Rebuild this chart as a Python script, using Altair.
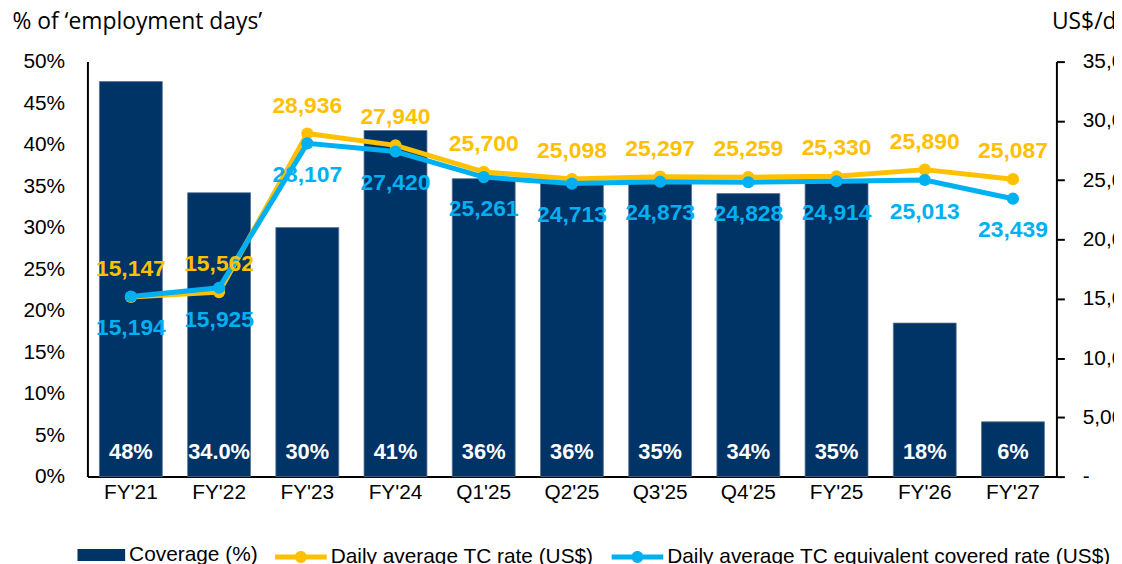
import altair as alt
import pandas as pd

categories = ["FY'21", "FY'22", "FY'23", "FY'24", "Q1'25", "Q2'25", "Q3'25",
              "Q4'25", "FY'25", "FY'26", "FY'27"]
coverage_pct = [47.6, 34.2, 30.0, 41.7, 35.9, 35.6, 35.3, 34.1, 35.4, 18.5, 6.6]
coverage_labels = ["48%", "34.0%", "30%", "41%", "36%", "36%", "35%", "34%",
                   "35%", "18%", "6%"]
tc_rate = [15147, 15562, 28936, 27940, 25700, 25098, 25297, 25259, 25330,
           25890, 25087]
tc_equiv_rate = [15194, 15925, 28107, 27420, 25261, 24713, 24873, 24828,
                 24914, 25013, 23439]
left_ticks = [0, 5, 10, 15, 20, 25, 30, 35, 40, 45, 50]
right_ticks = [0, 5000, 10000, 15000, 20000, 25000, 30000, 35000]

S_BAR = "Coverage (%)"
S_TC = "Daily average TC rate (US$)"
S_TCE = "Daily average TC equivalent covered rate (US$)"

NAVY = "#003366"
YELLOW = "#FFC000"
BLUE = "#00B0F0"
FONT = "Liberation Sans"

bars_df = pd.DataFrame({"category": categories, "coverage": coverage_pct,
                        "label": coverage_labels, "series": S_BAR})
lines_df = pd.DataFrame({
    "category": categories + categories,
    "rate": tc_rate + tc_equiv_rate,
    "series": [S_TC] * len(categories) + [S_TCE] * len(categories),
})

x_enc = alt.X("category:N", sort=categories,
              scale=alt.Scale(paddingInner=0.287, paddingOuter=0.136),
              axis=alt.Axis(title=None, labelAngle=0, ticks=False, tickSize=0,
                            labelPadding=5, labelFont=FONT, labelFontSize=21,
                            labelColor="black", domainColor="black",
                            domainWidth=2))

bar_legend = alt.Legend(title=None, orient="none", legendX=-10, legendY=473,
                        symbolType="M-1,-0.25H1V0.25H-1Z", symbolSize=2304,
                        symbolStrokeWidth=0, labelFont=FONT, labelFontSize=21,
                        labelColor="black", labelLimit=0, labelOffset=4)

bars = alt.Chart(bars_df).mark_bar(stroke="#5B7393", strokeWidth=0.8).encode(
    x=x_enc,
    y=alt.Y("coverage:Q", scale=alt.Scale(domain=[0, 50], nice=False),
            axis=alt.Axis(values=left_ticks, labelExpr="datum.value + '%'",
                          title="% of \u2018employment days\u2019",
                          titleAngle=0, titleAlign="left", titleBaseline="middle",
                          titleX=-76, titleY=-40, titleFont="Open Sans",
                          titleFontSize=23, titleFontWeight="normal",
                          titleColor="black", ticks=False, tickSize=0,
                          labelPadding=23, labelFont=FONT, labelFontSize=21,
                          labelColor="black", domainColor="black",
                          domainWidth=2, grid=False)),
    fill=alt.Fill("series:N", scale=alt.Scale(domain=[S_BAR], range=[NAVY]),
                  legend=bar_legend),
)

bar_text = alt.Chart(bars_df).mark_text(
    font=FONT, fontSize=22, fontWeight="bold", color="white",
    baseline="middle").encode(x=x_enc, text="label:N", y=alt.value(393))

line_legend = alt.Legend(
    title=None, orient="none", legendX=189, legendY=473, direction="horizontal",
    symbolType="M-1,-0.096H1V0.096H-1Z M-0.23,0A0.23,0.23,0,1,1,0.23,0A0.23,0.23,0,1,1,-0.23,0Z",
    symbolSize=2704, symbolStrokeWidth=0, labelFont=FONT, labelFontSize=21,
    labelColor="black", labelLimit=0, labelOffset=4, columnPadding=18)

y_right = alt.Y("rate:Q", scale=alt.Scale(domain=[0, 35000], nice=False),
                axis=alt.Axis(orient="right", values=right_ticks,
                              labelExpr="datum.value == 0 ? '-' : format(datum.value, ',')",
                              title="US$/day", titleAngle=0, titleAlign="left",
                              titleBaseline="middle", titleX=-5, titleY=-40,
                              titleFont="Open Sans", titleFontSize=23,
                              titleFontWeight="normal", titleColor="black",
                              tickSize=8, tickWidth=2, tickColor="black",
                              labelPadding=18, labelFont=FONT, labelFontSize=21,
                              labelColor="black", domainColor="black",
                              domainWidth=2, grid=False))

color_enc = alt.Color("series:N", scale=alt.Scale(domain=[S_TC, S_TCE],
                                                  range=[YELLOW, BLUE]),
                      legend=line_legend)


def series_layers(name, col, dy):
    base = alt.Chart(lines_df).transform_filter(alt.datum.series == name)
    ln = base.mark_line(strokeWidth=5, color=col).encode(x=x_enc, y=y_right)
    pt = base.mark_circle(size=150, opacity=1).encode(x=x_enc, y=y_right,
                                                      color=color_enc)
    tx = base.mark_text(font=FONT, fontSize=23, fontWeight="bold", color=col,
                        dy=dy, baseline="middle").encode(
        x=x_enc, y=y_right, text=alt.Text("rate:Q", format=","))
    return ln, pt, tx


y_ln, y_pt, y_tx = series_layers(S_TC, YELLOW, -28)
b_ln, b_pt, b_tx = series_layers(S_TCE, BLUE, 32)

left = alt.layer(bars, bar_text)
right = alt.layer(y_ln, y_pt, b_ln, b_pt, y_tx, b_tx)

chart = alt.layer(left, right).resolve_scale(
    y="independent", fill="independent", color="independent"
).properties(
    width=976, height=418,
    autosize=alt.AutoSizeParams(type="none"),
    padding={"left": 80, "top": 52, "right": 58, "bottom": 86},
).configure_view(stroke=None)

chart.save("out.html", embed_options={"renderer": "svg", "actions": False})
